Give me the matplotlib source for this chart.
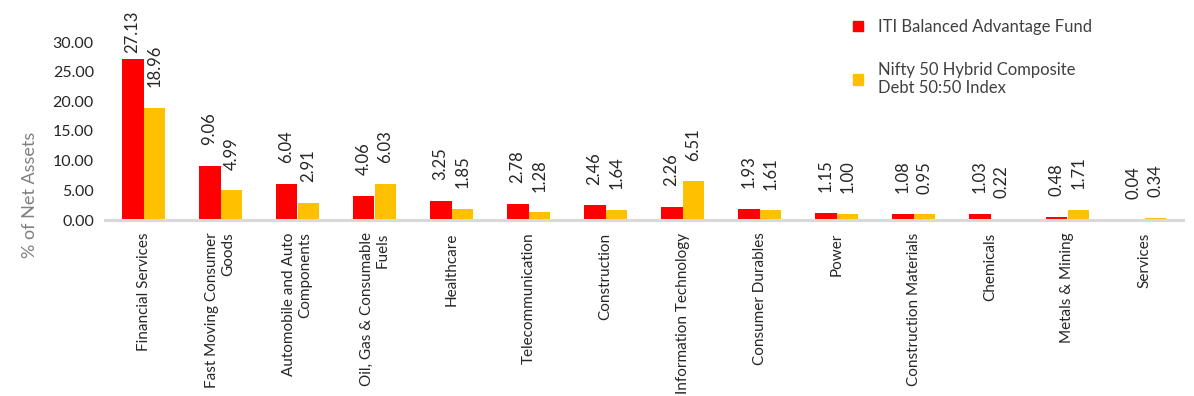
import numpy as np
import matplotlib
matplotlib.use("Agg")
import matplotlib.pyplot as plt
from matplotlib.patches import Patch

plt.rcParams['font.family'] = ['Lato', 'DejaVu Sans']

# ===== DATOS =====
categorias = [
    "Financial Services", "Fast Moving Consumer\nGoods", "Automobile and Auto\nComponents",
    "Oil, Gas & Consumable\nFuels", "Healthcare", "Telecommunication", "Construction",
    "Information Technology", "Consumer Durables", "Power", "Construction Materials",
    "Chemicals", "Metals & Mining", "Services",
]
fondo = [27.13, 9.06, 6.04, 4.06, 3.25, 2.78, 2.46, 2.26, 1.93, 1.15, 1.08, 1.03, 0.48, 0.04]
indice = [18.96, 4.99, 2.91, 6.03, 1.85, 1.28, 1.64, 6.51, 1.61, 1.00, 0.95, 0.22, 1.71, 0.34]
nombre_fondo = "ITI Balanced Advantage Fund"
nombre_indice = "Nifty 50 Hybrid Composite\nDebt 50:50 Index"
yticks = [0, 5, 10, 15, 20, 25, 30]

ROJO = "#FF0000"
AMARILLO = "#FFC000"
GRIS_TXT = "#262626"

# ===== FIGURA =====
fig = plt.figure(figsize=(11.94, 3.96), dpi=100)
ax = fig.add_axes([105 / 1194, 176 / 396, 1078 / 1194, 178 / 396])

x = np.arange(len(categorias))
w = 0.285
b1 = ax.bar(x - w / 2, fondo, w, color=ROJO)
b2 = ax.bar(x + w / 2, indice, w, color=AMARILLO)

# etiquetas de valores
for xs, vals in [(x - w / 2, fondo), (x + w / 2, indice)]:
    for xi, v in zip(xs, vals):
        ax.annotate(f"{v:.2f}", (xi, min(v, 24.6)), xytext=(0, 15),
                    textcoords="offset points", rotation=90,
                    ha="center", va="bottom", fontsize=12, color=GRIS_TXT)

ax.set_xlim(-0.5, len(categorias) - 0.5)
ax.set_ylim(0, 30)
ax.set_yticks(yticks)
ax.set_yticklabels([f"{t:.2f}" for t in yticks], fontsize=11.5, color=GRIS_TXT)
ax.set_xticks(x)
ax.set_xticklabels(categorias, rotation=90, ha="center", va="top",
                   multialignment="right", fontsize=11, color=GRIS_TXT)
ax.tick_params(axis="both", length=0)
ax.tick_params(axis="x", pad=9)
ax.tick_params(axis="y", pad=8)

for s in ["top", "right", "left"]:
    ax.spines[s].set_visible(False)
ax.spines["bottom"].set_color("#D9D9D9")
ax.spines["bottom"].set_linewidth(2.2)

ax.set_ylabel("% of Net Assets", fontsize=13, color="#7F7F7F")
ax.yaxis.set_label_coords(-0.062, 0.14)

# leyenda
handles = [Patch(color=ROJO, label=nombre_fondo), Patch(color=AMARILLO, label=nombre_indice)]
fig.legend(handles=handles, loc="upper left", bbox_to_anchor=(838 / 1194, 1 - 4 / 396),
           frameon=False, fontsize=12, handlelength=0.6, handleheight=0.6,
           handletextpad=0.9, labelspacing=1.6, labelcolor="#404040")

fig.savefig("out.png", dpi=100)
